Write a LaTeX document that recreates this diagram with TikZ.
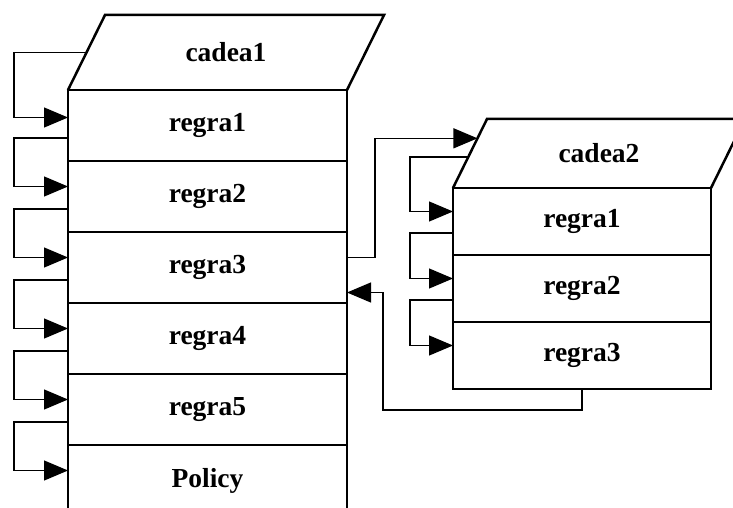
\documentclass[tikz,border=0pt]{standalone}
\usepackage{fontspec}
\setmainfont{Liberation Serif}
\usetikzlibrary{arrows.meta, positioning, calc}

\begin{document}
\begin{tikzpicture}[
    x=1pt, y=-1pt,
    % Define Styles for Consistency
    rule/.style={
        rectangle, draw=black, line width=2.5pt, fill=white,
        minimum width=279pt, minimum height=71pt, inner sep=0pt, outer sep=0pt,
        font=\fontsize{27.5}{32}\selectfont\bfseries
    },
    subrule/.style={
        rule, minimum width=258pt, minimum height=67pt
    },
    chainhead/.style={
        draw=black, line width=2.5pt, line join=miter
    },
    title/.style={
        font=\fontsize{27.5}{32}\selectfont\bfseries
    },
    jump/.style={
        -{Triangle[length=24pt, width=20pt]}, line width=1.2pt
    }
]
    \useasboundingbox (0,0) rectangle (733,508);

    % --- 1. First chain (cadea1) ---

    \node[rule] (r1) at (207.5,125.5) {regra1};
    \node[rule, below=0pt of r1] (r2) {regra2};
    \node[rule, below=0pt of r2] (r3) {regra3};
    \node[rule, below=0pt of r3] (r4) {regra4};
    \node[rule, below=0pt of r4] (r5) {regra5};
    \node[rule, below=0pt of r5] (pol) {Policy};

    % slanted header on top of the first rule
    \coordinate (c1a) at ([shift={(37pt,75pt)}]r1.north west);
    \coordinate (c1b) at ([shift={(37pt,75pt)}]r1.north east);
    \draw[chainhead] (r1.north west) -- (c1a) -- (c1b) -- (r1.north east);
    \node[title] (cadea1) at ($(r1.north west)!0.5!(c1b)$) {cadea1};

    % --- 2. Second chain (cadea2) ---

    \node[subrule] (s1) at (582,221.5) {regra1};
    \node[subrule, below=0pt of s1] (s2) {regra2};
    \node[subrule, below=0pt of s2] (s3) {regra3};

    \coordinate (c2a) at ([shift={(34pt,69pt)}]s1.north west);
    \coordinate (c2b) at ([shift={(34pt,69pt)}]s1.north east);
    \draw[chainhead] (s1.north west) -- (c2a) -- (c2b) -- (s1.north east);
    \node[title] (cadea2) at ($(s1.north west)!0.5!(c2b)$) {cadea2};

    % --- 3. Fall-through arrows between rules ---

    \coordinate (lx) at (14,0);
    \coordinate (rx) at (410,0);

    \coordinate (c1mid) at ($(r1.north west)!0.5!(c1a)$);
    \draw[jump] (c1mid) -- (c1mid -| lx) |- ([yshift=8pt]r1.west);
    \foreach \a/\b in {r1/r2, r2/r3, r3/r4, r4/r5, r5/pol}
        \draw[jump] ([yshift=23pt]\a.south west) -- ++(-54,0) |- ([yshift=10pt]\b.west);

    \coordinate (c2mid) at ($(s1.north west)!0.45!(c2a)$);
    \draw[jump] (c2mid) -- (c2mid -| rx) |- ([yshift=10pt]s1.west);
    \foreach \a/\b in {s1/s2, s2/s3}
        \draw[jump] ([yshift=22pt]\a.south west) -- ++(-43,0) |- ([yshift=10pt]\b.west);

    % --- 4. Jump to cadea2 and return ---

    \coordinate (c2in) at ($(s1.north west)!0.72!(c2a)$);
    \draw[jump] ([yshift=10pt]r3.east) -- ++(28,0) |- (c2in);

    \coordinate (back) at (383,410);
    \draw[jump] (s3.south) |- (back) |- ([yshift=-25pt]r3.east);

\end{tikzpicture}
\end{document}
